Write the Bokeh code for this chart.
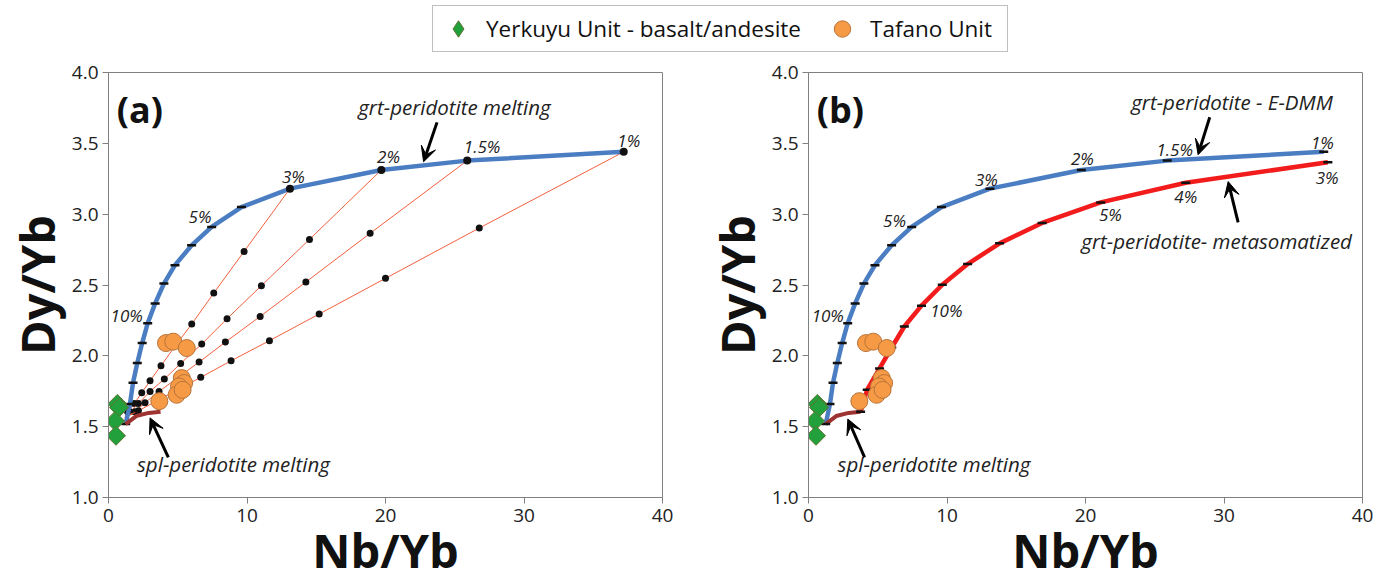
from bokeh.plotting import figure
from bokeh.layouts import column, row
from bokeh.models import (Range1d, FixedTicker, PrintfTickFormatter, Label, Arrow,
                          VeeHead, Legend, LegendItem, ColumnDataSource)
from bokeh.core.properties import value
from bokeh.embed import file_html
from bokeh.resources import INLINE

# ---------------- data ----------------
x_ticks = [0, 10, 20, 30, 40]
y_ticks = [1.0, 1.5, 2.0, 2.5, 3.0, 3.5, 4.0]

yerkuyu_nb = [0.64, 0.76, 0.47, 0.54]
yerkuyu_dy = [1.66, 1.635, 1.54, 1.436]

tafano_nb = [4.15, 4.68, 5.65, 5.29, 5.46, 5.09, 4.92, 3.67, 5.35]
tafano_dy = [2.09, 2.10, 2.055, 1.843, 1.808, 1.784, 1.725, 1.680, 1.76]

# garnet-peridotite (E-DMM) melting curve, F = 1 ... 15 %
grt_F = [1, 1.5, 2, 3, 4, 5, 6, 7, 8, 9, 10, 11, 12, 13, 14, 15]
grt_nb = [37.2, 25.9, 19.7, 13.1, 9.6, 7.45, 6.0, 4.8, 4.0, 3.37, 2.83, 2.43, 2.08, 1.77, 1.55, 1.24]
grt_dy = [3.44, 3.378, 3.312, 3.18, 3.05, 2.91, 2.78, 2.64, 2.51, 2.37, 2.23, 2.09, 1.95, 1.81, 1.66, 1.518]

# metasomatized garnet-peridotite melting curve, F = 3 ... 15 %
met_F = [3, 4, 5, 6, 7, 8, 9, 10, 11, 12, 13, 14, 15]
met_nb = [37.5, 27.24, 21.1, 16.87, 13.8, 11.49, 9.66, 8.16, 6.92, 6.01, 5.13, 4.24, 3.76]
met_dy = [3.366, 3.222, 3.083, 2.938, 2.794, 2.648, 2.502, 2.354, 2.207, 2.059, 1.911, 1.761, 1.605]

# spinel-peridotite melting curve
spl_nb = [1.24, 2.0, 2.9, 3.76]
spl_dy = [1.518, 1.575, 1.597, 1.605]

# mixing lines (garnet melt -> spinel melt), panel (a)
mix3_nb = [13.1, 9.79, 7.60, 6.01, 4.88, 3.79, 3.00, 2.40, 1.87, 1.38, 1.19]
mix3_dy = [3.18, 2.737, 2.443, 2.224, 2.078, 1.930, 1.824, 1.739, 1.664, 1.605, 1.565]
mix2_nb = [19.7, 14.51, 11.04, 8.56, 6.73, 5.21, 4.03, 3.00, 2.16, 1.55, 1.19]
mix2_dy = [3.312, 2.822, 2.495, 2.262, 2.083, 1.946, 1.836, 1.749, 1.664, 1.605, 1.565]
mix15_nb = [25.9, 18.89, 14.25, 10.95, 8.44, 6.54, 5.0, 3.65, 2.64, 1.91, 1.19]
mix15_dy = [3.378, 2.865, 2.521, 2.278, 2.097, 1.956, 1.845, 1.749, 1.669, 1.605, 1.565]
mix1_nb = [37.2, 26.77, 20.0, 15.21, 11.62, 8.85, 6.66, 4.85, 3.41, 2.16, 1.19]
mix1_dy = [3.44, 2.902, 2.547, 2.295, 2.107, 1.965, 1.848, 1.753, 1.678, 1.612, 1.565]

# percent labels
lab_a_text = ["1%", "1.5%", "2%", "3%", "5%", "10%"]
lab_a_x = [37.56, 26.97, 20.22, 13.35, 6.61, 1.31]
lab_a_y = [3.519, 3.477, 3.406, 3.265, 2.982, 2.283]
lab_b_text = ["1%", "1.5%", "2%", "3%", "5%", "10%", "3%", "4%", "5%", "10%"]
lab_b_x = [37.1, 26.44, 19.77, 12.84, 6.21, 1.39, 37.45, 27.24, 21.8, 9.95]
lab_b_y = [3.507, 3.46, 3.39, 3.242, 2.954, 2.283, 3.26, 3.124, 2.996, 2.318]

# ---------------- style ----------------
FONT = "Open Sans"
BLUE = "#4a7dc1"
RED = "#f21c1c"
TIE = "#f2613f"
SPL = "#9e3431"
GREEN = "#21a03b"
GREEN_LINE = "#5c7230"
ORANGE = "#f79a46"
ORANGE_LINE = "#b8743a"
GRAY = "#808080"
TXT = "#222222"


def make_panel(width, border_left, border_right):
    p = figure(width=width, height=526, x_range=Range1d(0, 40), y_range=Range1d(1.0, 4.0),
               output_backend="svg", toolbar_location=None,
               min_border_left=border_left, min_border_right=border_right,
               min_border_top=14, min_border_bottom=87)
    p.grid.visible = False
    p.outline_line_color = GRAY
    p.outline_line_width = 1
    p.background_fill_color = "white"
    p.border_fill_color = "white"
    p.xaxis.ticker = FixedTicker(ticks=x_ticks)
    p.yaxis.ticker = FixedTicker(ticks=y_ticks)
    p.yaxis.formatter = PrintfTickFormatter(format="%.1f")
    p.xaxis.axis_label = "Nb/Yb"
    p.yaxis.axis_label = "Dy/Yb"
    for ax in (p.xaxis[0], p.yaxis[0]):
        ax.axis_line_color = GRAY
        ax.major_tick_line_color = GRAY
        ax.major_tick_in = 0
        ax.major_tick_out = 6
        ax.minor_tick_line_color = None
        ax.major_label_text_font = FONT
        ax.major_label_text_font_size = "19px"
        ax.major_label_text_color = TXT
        ax.axis_label_text_font = FONT
        ax.axis_label_text_font_size = "47px"
        ax.axis_label_text_font_style = "bold"
        ax.axis_label_text_color = "#111111"
    p.xaxis.major_label_standoff = 5
    p.xaxis.axis_label_standoff = -7
    p.yaxis.major_label_standoff = 4
    p.yaxis.axis_label_standoff = 0
    return p


def add_samples(p):
    p.scatter(tafano_nb, tafano_dy, marker="circle", size=17, fill_color=ORANGE,
              line_color=ORANGE_LINE, line_width=1)
    p.scatter(yerkuyu_nb, yerkuyu_dy, marker="square", angle=0.785398, size=13.5,
              fill_color=GREEN, line_color=GREEN_LINE, line_width=1)


def add_text(p, xs, ys, texts, size="17px"):
    src = ColumnDataSource(dict(x=xs, y=ys, t=texts))
    p.text("x", "y", text="t", source=src, text_font=value(FONT), text_font_size=size,
           text_font_style="italic", text_color=TXT, text_align="center", text_baseline="middle")


def note(p, x, y, text):
    p.add_layout(Label(x=x, y=y, text=text, text_font=FONT, text_font_size="20.5px",
                       text_font_style="italic", text_color=TXT, text_align="left",
                       text_baseline="middle"))


def arrow(p, x0, y0, x1, y1):
    p.add_layout(Arrow(end=VeeHead(size=15, fill_color="black", line_color="black", line_width=1),
                       x_start=x0, y_start=y0, x_end=x1, y_end=y1,
                       line_color="black", line_width=3))


def tag(p, text):
    p.add_layout(Label(x=0.6, y=3.91, text=text, text_font=FONT, text_font_size="36px",
                       text_font_style="bold", text_color="#111111", text_align="left",
                       text_baseline="top"))


# ---------------- panel (a) ----------------
pa = make_panel(700, 108, 38)
for xs, ys in ((mix3_nb, mix3_dy), (mix2_nb, mix2_dy), (mix15_nb, mix15_dy), (mix1_nb, mix1_dy)):
    pa.line(xs, ys, line_color=TIE, line_width=1)
    pa.scatter(xs[1:-1], ys[1:-1], marker="circle", size=7, fill_color="#111111", line_color=None)
pa.line(grt_nb, grt_dy, line_color=BLUE, line_width=4.5, line_join="round")
pa.scatter(grt_nb[:4], grt_dy[:4], marker="circle", size=8, fill_color="#111111", line_color=None)
pa.scatter(grt_nb[4:], grt_dy[4:], marker="dash", size=9, line_color="#111111", line_width=2.5)
pa.line(spl_nb, spl_dy, line_color=SPL, line_width=4, line_join="round")
add_samples(pa)
add_text(pa, lab_a_x, lab_a_y, lab_a_text)
note(pa, 18.03, 3.754, "grt-peridotite melting")
note(pa, 2.06, 1.238, "spl-peridotite melting")
arrow(pa, 23.72, 3.648, 22.75, 3.37)
arrow(pa, 4.32, 1.283, 3.0, 1.562)
tag(pa, "(a)")

# ---------------- panel (b) ----------------
pb = make_panel(686, 108, 24)
pb.line(grt_nb, grt_dy, line_color=BLUE, line_width=4.5, line_join="round")
pb.line(met_nb, met_dy, line_color=RED, line_width=4.5, line_join="round")
pb.line(spl_nb, spl_dy, line_color=SPL, line_width=4, line_join="round")
pb.scatter(grt_nb, grt_dy, marker="dash", size=9, line_color="#111111", line_width=2.5)
pb.scatter(met_nb, met_dy, marker="dash", size=9, line_color="#111111", line_width=2.5)
add_samples(pb)
add_text(pb, lab_b_x, lab_b_y, lab_b_text)
note(pb, 23.3, 3.79, "grt-peridotite - E-DMM")
note(pb, 19.7, 2.813, "grt-peridotite- metasomatized")
note(pb, 2.1, 1.238, "spl-peridotite melting")
arrow(pb, 28.97, 3.684, 28.13, 3.42)
arrow(pb, 31.02, 2.942, 30.3, 3.23)
arrow(pb, 4.05, 1.283, 2.84, 1.554)
tag(pb, "(b)")

# ---------------- legend strip ----------------
leg = figure(width=1386, height=58, x_range=Range1d(100, 101), y_range=Range1d(100, 101),
             output_backend="svg", toolbar_location=None, min_border=0,
             x_axis_type=None, y_axis_type=None)
leg.outline_line_color = None
leg.grid.visible = False
r1 = leg.scatter(yerkuyu_nb, yerkuyu_dy, marker="diamond", size=20,
                 fill_color=GREEN, line_color=GREEN_LINE, line_width=1)
r2 = leg.scatter(tafano_nb, tafano_dy, marker="circle", size=20, fill_color=ORANGE,
                 line_color=ORANGE_LINE, line_width=1)
legend = Legend(items=[LegendItem(label="Yerkuyu Unit - basalt/andesite", renderers=[r1]),
                       LegendItem(label="Tafano Unit", renderers=[r2])],
                orientation="horizontal", location=(432, 6),
                border_line_color=GRAY, border_line_width=1, background_fill_color="white",
                background_fill_alpha=1.0, label_text_font=FONT, label_text_font_size="22.5px",
                label_text_color="#111111", glyph_width=46, glyph_height=41, padding=2,
                spacing=18, label_standoff=5, label_width=135, margin=0)
leg.add_layout(legend)

layout = column(leg, row(pa, pb))
open("out.html", "w").write(file_html(layout, INLINE))
